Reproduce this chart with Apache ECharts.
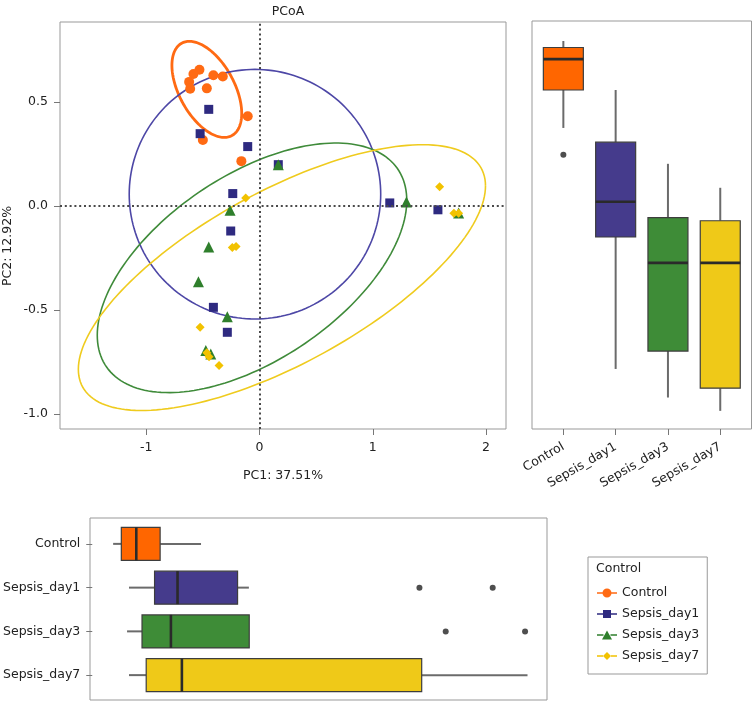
<!DOCTYPE html>
<html><head><meta charset="utf-8">
<script src="https://cdn.jsdelivr.net/npm/echarts@6/dist/echarts.min.js"></script>
<style>html,body{margin:0;padding:0;background:#fff}#c{width:752px;height:701px}</style>
</head><body><div id="c"></div>
<script>
// ---------- data ----------
const groups = ['Control', 'Sepsis_day1', 'Sepsis_day3', 'Sepsis_day7'];
// PCoA scores [PC1, PC2]
const controlPts = [[-0.530,0.655],[-0.583,0.635],[-0.621,0.597],[-0.612,0.564],[-0.407,0.629],[-0.324,0.623],[-0.465,0.566],[-0.104,0.432],[-0.500,0.318],[-0.160,0.216]];
const day1Pts = [[-0.448,0.465],[-0.524,0.348],[-0.104,0.286],[0.166,0.199],[-0.236,0.060],[-0.254,-0.120],[-0.407,-0.487],[-0.284,-0.607],[1.150,0.015],[1.575,-0.018]];
const day3Pts = [[0.166,0.199],[-0.260,-0.020],[-0.448,-0.197],[-0.539,-0.364],[-0.284,-0.532],[-0.474,-0.695],[-0.430,-0.711],[1.297,0.020],[1.758,-0.033]];
const day7Pts = [[-0.122,0.039],[-0.240,-0.199],[-0.207,-0.195],[-0.524,-0.583],[-0.465,-0.705],[-0.445,-0.725],[-0.357,-0.767],[1.590,0.093],[1.716,-0.034],[1.758,-0.034]];
// confidence ellipses [centerPC1, centerPC2, halfWidth, halfHeight, correlation]
const ellControl = [-0.465, 0.561, 0.308, 0.231, -0.5];
const ellDay1 = [-0.040, 0.057, 1.110, 0.600, 0.0];
const ellDay3 = [-0.066, -0.297, 1.366, 0.600, 0.54];
const ellDay7 = [0.198, -0.344, 1.797, 0.639, 0.69];
// tick labels
const xTicks = [-1, 0, 1, 2];
const yTicks = [-1, -0.5, 0, 0.5];
// PC2 box stats [min, Q1, median, Q3, max]
const pc2Box = [[0.372,0.554,0.702,0.758,0.789],[-0.784,-0.151,0.018,0.304,0.554],[-0.921,-0.698,-0.275,-0.058,0.200],[-0.985,-0.876,-0.275,-0.073,0.085]];
const pc2Outliers = [[0, 0.243]];
// PC1 box stats [min, Q1, median, Q3, max]
const pc1Box = [[-0.620,-0.573,-0.487,-0.350,-0.115],[-0.529,-0.382,-0.250,0.095,0.160],[-0.540,-0.454,-0.288,0.162,0.162],[-0.529,-0.430,-0.225,1.153,1.761]];
const pc1Outliers = [[1,1.140],[1,1.561],[2,1.291],[2,1.747]];

// ---------- styles ----------
const FONT = 'DejaVu Sans';
const FS = 12.5;
const pointColors = ['#FF6A13', '#2E2A80', '#2F7F2C', '#F2C200'];
const ellColors = ['#FF6A13', '#4D47A6', '#3F8B3A', '#EFCB1E'];
const boxColors = ['#FF6600', '#453B8C', '#3E8C37', '#EFC918'];
const symbols = ['circle', 'rect', 'triangle', 'diamond'];
const symbolSizes = [10, 9, 11, 9];
const icons = [
  'path://M0,4.2H5.6V5.8H0Z M14.4,4.2H20V5.8H14.4Z M5.5,5A4.5,4.5,0,1,1,14.5,5A4.5,4.5,0,1,1,5.5,5Z',
  'path://M0,4.2H6V5.8H0Z M14,4.2H20V5.8H14Z M6,1H14V9H6Z',
  'path://M0,4.2H6.5V5.8H0Z M13.5,4.2H20V5.8H13.5Z M10,0.5L15,9.5H5Z',
  'path://M0,4.2H6V5.8H0Z M14,4.2H20V5.8H14Z M10,1L14,5L10,9L6,5Z'
];
const axisText = { fontFamily: FONT, fontSize: FS, color: '#222' };

function ellipseSeries(params, i) {
  return {
    type: 'custom', xAxisIndex: 0, yAxisIndex: 0, silent: true, z: 1,
    data: [params], encode: { x: 0, y: 1 },
    renderItem: function (p, api) {
      const cx = api.value(0), cy = api.value(1), hw = api.value(2), hh = api.value(3), r = api.value(4);
      const s = Math.sqrt(1 - r * r);
      const pts = [];
      for (let k = 0; k <= 180; k++) {
        const t = k / 180 * 2 * Math.PI;
        pts.push(api.coord([cx + hw * Math.cos(t), cy + hh * (r * Math.cos(t) + s * Math.sin(t))]));
      }
      return { type: 'polyline', shape: { points: pts }, style: { stroke: ellColors[i], fill: 'none', lineWidth: i === 0 ? 2.8 : 1.6 } };
    }
  };
}

function boxSeries(stats, horizontal, gi, boxW) {
  return {
    type: 'custom', xAxisIndex: gi, yAxisIndex: gi, silent: true,
    data: stats.map((s, i) => [i].concat(s)),
    encode: horizontal ? { x: [1, 2, 3, 4, 5], y: 0 } : { x: 0, y: [1, 2, 3, 4, 5] },
    renderItem: function (p, api) {
      const cat = api.value(0);
      const v = [1, 2, 3, 4, 5].map(k => api.value(k));
      const pt = val => horizontal ? api.coord([val, cat]) : api.coord([cat, val]);
      const P = v.map(pt);
      const h = boxW / 2;
      const whisk = { stroke: '#6b6b6b', lineWidth: 2 };
      const boxStyle = { fill: boxColors[p.dataIndex], stroke: '#3d3d3d', lineWidth: 1.2 };
      const medStyle = { stroke: '#2a2a2a', lineWidth: 2.6 };
      const ch = [];
      if (!horizontal) {
        const c = P[2][0];
        ch.push({ type: 'line', shape: { x1: c, y1: P[4][1], x2: c, y2: P[3][1] }, style: whisk });
        ch.push({ type: 'line', shape: { x1: c, y1: P[1][1], x2: c, y2: P[0][1] }, style: whisk });
        ch.push({ type: 'rect', shape: { x: c - h, y: P[3][1], width: boxW, height: P[1][1] - P[3][1] }, style: boxStyle });
        ch.push({ type: 'line', shape: { x1: c - h, y1: P[2][1], x2: c + h, y2: P[2][1] }, style: medStyle });
      } else {
        const c = P[2][1];
        ch.push({ type: 'line', shape: { x1: P[0][0], y1: c, x2: P[1][0], y2: c }, style: whisk });
        ch.push({ type: 'line', shape: { x1: P[3][0], y1: c, x2: P[4][0], y2: c }, style: whisk });
        ch.push({ type: 'rect', shape: { x: P[1][0], y: c - h, width: P[3][0] - P[1][0], height: boxW }, style: boxStyle });
        ch.push({ type: 'line', shape: { x1: P[2][0], y1: c - h, x2: P[2][0], y2: c + h }, style: medStyle });
      }
      return { type: 'group', children: ch };
    }
  };
}

const allPts = [controlPts, day1Pts, day3Pts, day7Pts];
const ells = [ellControl, ellDay1, ellDay3, ellDay7];

const series = [];
ells.forEach((e, i) => series.push(ellipseSeries(e, i)));
series[0].markLine = {
  silent: true, symbol: ['none', 'none'], label: { show: false }, animation: false,
  lineStyle: { color: '#4a4a4a', type: [2, 2.8], width: 2 },
  data: [{ xAxis: 0 }, { yAxis: 0 }]
};
allPts.forEach((pts, i) => series.push({
  type: 'scatter', name: groups[i], xAxisIndex: 0, yAxisIndex: 0, z: 3,
  symbol: symbols[i], symbolSize: symbolSizes[i],
  itemStyle: { color: pointColors[i], opacity: 1 },
  data: pts
}));
series.push(boxSeries(pc2Box, false, 1, 40));
series.push({ type: 'scatter', xAxisIndex: 1, yAxisIndex: 1, symbolSize: 6, itemStyle: { color: '#222' }, silent: true, data: pc2Outliers });
series.push(boxSeries(pc1Box, true, 3, 33));
series.push({ type: 'scatter', xAxisIndex: 3, yAxisIndex: 3, symbolSize: 6, itemStyle: { color: '#222' }, silent: true, data: pc1Outliers.map(o => [o[1], o[0]]) });

const noLine = { show: false, onZero: false };
const hidden = { show: false };
const option = {
  animation: false,
  backgroundColor: '#fff',
  textStyle: { fontFamily: FONT },
  title: { text: 'PCoA', left: 283, top: 0, textAlign: 'center', textStyle: { fontFamily: FONT, fontSize: FS, fontWeight: 'normal', color: '#222' } },
  grid: [
    { left: 60, top: 22, width: 446, height: 407, show: true, borderColor: '#999', borderWidth: 1 },
    { left: 537.2, top: 21, width: 209.2, height: 408 },
    { left: 532, top: 21, width: 219.5, height: 408, show: true, borderColor: '#999', borderWidth: 1 },
    { left: 90, top: 522, width: 457, height: 175 },
    { left: 90, top: 518, width: 457, height: 182, show: true, borderColor: '#999', borderWidth: 1 }
  ],
  xAxis: [
    { type: 'value', gridIndex: 0, min: -1.761, max: 2.176, name: 'PC1: 37.51%', nameLocation: 'middle', nameGap: 40,
      nameTextStyle: axisText, axisLine: noLine, splitLine: hidden,
      axisTick: { show: true, customValues: xTicks, length: 6, lineStyle: { color: '#777' } },
      axisLabel: { customValues: xTicks, margin: 12, ...axisText, formatter: v => String(v) } },
    { type: 'category', gridIndex: 1, data: groups, axisLine: noLine, splitLine: hidden,
      axisTick: { show: true, alignWithLabel: true, length: 6, lineStyle: { color: '#777' } },
      axisLabel: { rotate: 30, margin: 17, interval: 0, ...axisText } },
    { type: 'value', gridIndex: 2, show: false },
    { type: 'value', gridIndex: 3, min: -0.740, max: 1.873, show: false },
    { type: 'value', gridIndex: 4, show: false }
  ],
  yAxis: [
    { type: 'value', gridIndex: 0, min: -1.072, max: 0.885, axisLine: noLine, splitLine: hidden,
      axisTick: { show: true, customValues: yTicks, length: 6, lineStyle: { color: '#777' } },
      axisLabel: { customValues: yTicks, margin: 12, ...axisText, formatter: v => v.toFixed(1) } },
    { type: 'value', gridIndex: 1, min: -1.072, max: 0.885, show: false },
    { type: 'value', gridIndex: 2, show: false },
    { type: 'category', gridIndex: 3, data: groups, inverse: true, axisLine: noLine, splitLine: hidden,
      axisTick: { show: true, alignWithLabel: true, length: 6, lineStyle: { color: '#777' } },
      axisLabel: { margin: 12, interval: 0, ...axisText } },
    { type: 'value', gridIndex: 4, show: false }
  ],
  legend: {
    left: 588, top: 557, orient: 'vertical', padding: [29, 8, 11, 9], itemGap: 7,
    itemWidth: 20, itemHeight: 10, borderColor: '#999', borderWidth: 1,
    textStyle: { fontFamily: FONT, fontSize: FS, color: '#222', lineHeight: 14 },
    data: groups.map((g, i) => ({ name: g, icon: icons[i] }))
  },
  graphic: [
    { type: 'text', x: 8, y: 246, rotation: Math.PI / 2, style: { text: 'PC2: 12.92%', textAlign: 'center', textVerticalAlign: 'middle', font: FS + 'px "' + FONT + '"', fill: '#222' } },
    { type: 'text', left: 596, top: 562, style: { text: 'Control', font: FS + 'px "' + FONT + '"', fill: '#222' } }
  ],
  series: series
};
const chart = echarts.init(document.getElementById('c'), null, { renderer: 'canvas' });
chart.setOption(option);
</script></body></html>
